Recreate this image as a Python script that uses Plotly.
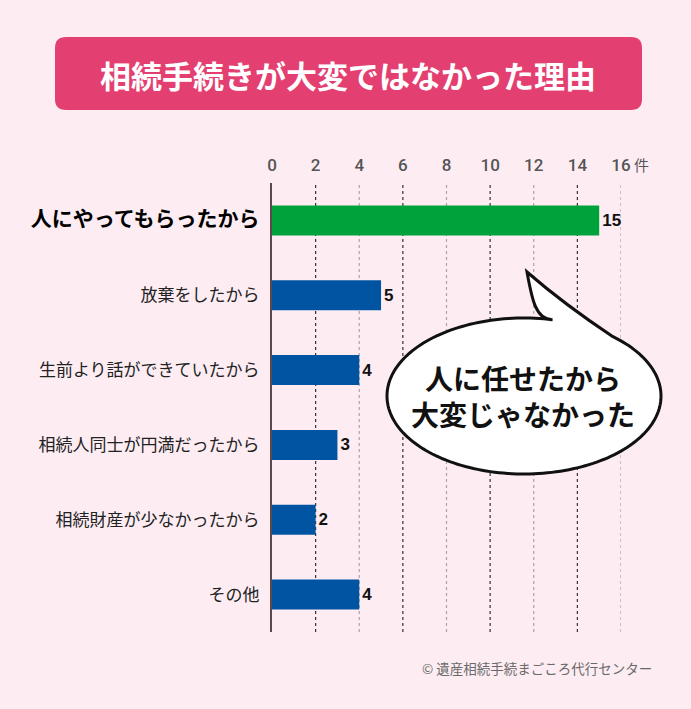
import numpy as np
import plotly.graph_objects as go

# data
reasons = [
    "人にやってもらったから",
    "放棄をしたから",
    "生前より話ができていたから",
    "相続人同士が円満だったから",
    "相続財産が少なかったから",
    "その他",
]
counts = [15, 5, 4, 3, 2, 4]
x_ticks = [0, 2, 4, 6, 8, 10, 12, 14, 16]
x_tick_labels = ["0", "2", "4", "6", "8", "10", "12", "14", "16"]

title_text = "相続手続きが大変ではなかった理由"
bubble_text = "人に任せたから<br>大変じゃなかった"
source_text = "© 遺産相続手続まごころ代行センター"

W, H = 691, 709
BG = "#fdedf3"
PINK = "#e43f71"
GREEN = "#00a33b"
BLUE = "#0054a2"
JP = "Noto Sans CJK JP"


def px(x, y):
    # pixel -> paper coordinates
    return x / W, 1 - y / H


def P(x, y):
    a, b = px(x, y)
    return "%.5f,%.5f" % (a, b)


# bar colours: the top reason highlighted
bar_colors = [GREEN if i == 0 else BLUE for i in range(len(reasons))]

# y tick labels: first one bold and bigger
y_labels = []
for i, r in enumerate(reasons):
    if i == 0:
        y_labels.append('<span style="font-size:21px;color:#000"><b>%s</b></span>' % r)
    else:
        y_labels.append(r)

fig = go.Figure(go.Bar(
    x=counts, y=reasons, orientation="h",
    marker=dict(color=bar_colors, line=dict(width=0)),
    width=0.4,
    text=counts, textposition="outside",
    textfont=dict(family="Liberation Sans", size=17, color="#111", weight="bold"),
    cliponaxis=False,
    hoverinfo="skip",
))

# plot area placement
x0p, x1p = 272 / W, 621 / W
y0p, y1p = 1 - 632 / H, 1 - 183 / H

shapes = []
# dotted vertical grid lines, alternating dark / light
for v in x_ticks[1:]:
    dark = (v // 2) % 2 == 1
    shapes.append(dict(
        type="line", xref="x", yref="paper", x0=v, x1=v, y0=y0p, y1=y1p,
        line=dict(color="#333333" if dark else "#aaa3a6", width=1.2, dash="dot"),
        layer="below",
    ))

# rounded title box
bx0, by0 = 55, 37
bx1, by1 = 642, 110
r = 11
title_path = (
    "M" + P(bx0 + r, by0) + " L" + P(bx1 - r, by0) +
    " Q" + P(bx1, by0) + " " + P(bx1, by0 + r) +
    " L" + P(bx1, by1 - r) +
    " Q" + P(bx1, by1) + " " + P(bx1 - r, by1) +
    " L" + P(bx0 + r, by1) +
    " Q" + P(bx0, by1) + " " + P(bx0, by1 - r) +
    " L" + P(bx0, by0 + r) +
    " Q" + P(bx0, by0) + " " + P(bx0 + r, by0) + " Z"
)
shapes.append(dict(type="path", xref="paper", yref="paper", path=title_path,
                   fillcolor=PINK, line=dict(width=0), layer="below"))

# speech bubble: ellipse arc + tail in one path
cx, cy, rx, ry = 524, 396, 137, 78
t_start, t_end = np.radians(-49.5), np.radians(282)
ts = np.linspace(t_start, t_end, 180)
ex = cx + rx * np.cos(ts)
ey = cy + ry * np.sin(ts)
bubble = "M" + P(ex[0], ey[0])
for a, b in zip(ex[1:], ey[1:]):
    bubble += " L" + P(a, b)
# tail up to the tip and back down
tip = (527, 272)
bubble += " C" + P(536, 320) + " " + P(532, 300) + " " + P(*tip)
bubble += " Q" + P(565, 305) + " " + P(ex[0], ey[0]) + " Z"
shapes.append(dict(type="path", xref="paper", yref="paper", path=bubble,
                   fillcolor="white", line=dict(color="#111", width=3), layer="above"))

annotations = [
    dict(x=px(348, 74)[0], y=px(348, 74)[1], xref="paper", yref="paper",
         xanchor="center", yanchor="middle",
         text="<b>%s</b>" % title_text, showarrow=False,
         font=dict(family=JP, size=31, color="white")),
    dict(x=px(523, 396)[0], y=px(523, 396)[1], xref="paper", yref="paper",
         xanchor="center", yanchor="middle",
         text="<b>%s</b>" % bubble_text, showarrow=False,
         font=dict(family=JP, size=28, color="#111")),
    dict(x=16, y=px(0, 165)[1], xref="x", yref="paper",
         xanchor="left", yanchor="middle",
         xshift=11, text="件", showarrow=False,
         font=dict(family=JP, size=15, color="#555")),
    dict(x=px(654, 668)[0], y=px(654, 668)[1], xref="paper", yref="paper",
         xanchor="right", yanchor="middle", text=source_text, showarrow=False,
         font=dict(family=JP, size=13.5, color="#6a6a6a")),
]

fig.update_layout(
    width=W, height=H,
    margin=dict(l=0, r=0, t=0, b=0),
    paper_bgcolor=BG, plot_bgcolor=BG,
    showlegend=False,
    shapes=shapes,
    annotations=annotations,
    font=dict(family=JP, color="#222"),
    xaxis=dict(
        domain=[x0p, x1p], range=[0, 16], side="top",
        tickvals=x_ticks, ticktext=x_tick_labels,
        tickfont=dict(family="Roboto", size=17, color="#555", weight=500),
        showgrid=False, zeroline=False, showline=False, ticks="",
        ticklabelstandoff=8, automargin=False, fixedrange=True,
    ),
    yaxis=dict(
        domain=[y0p, y1p], type="category",
        categoryorder="array", categoryarray=reasons,
        range=[len(reasons) - 0.5, -0.5],
        tickvals=reasons, ticktext=y_labels,
        tickfont=dict(family=JP, size=17, color="#222"),
        showgrid=False, zeroline=False,
        showline=True, linecolor="#5b4a4a", linewidth=2,
        ticks="", ticklabelstandoff=7, automargin=False, fixedrange=True,
    ),
)

# drop the page's default body margin so the figure fills the window
fig.write_html("out.html", config={"displayModeBar": False},
               post_script="document.body.style.margin='0';"
                           "document.body.style.background='%s';" % BG)
